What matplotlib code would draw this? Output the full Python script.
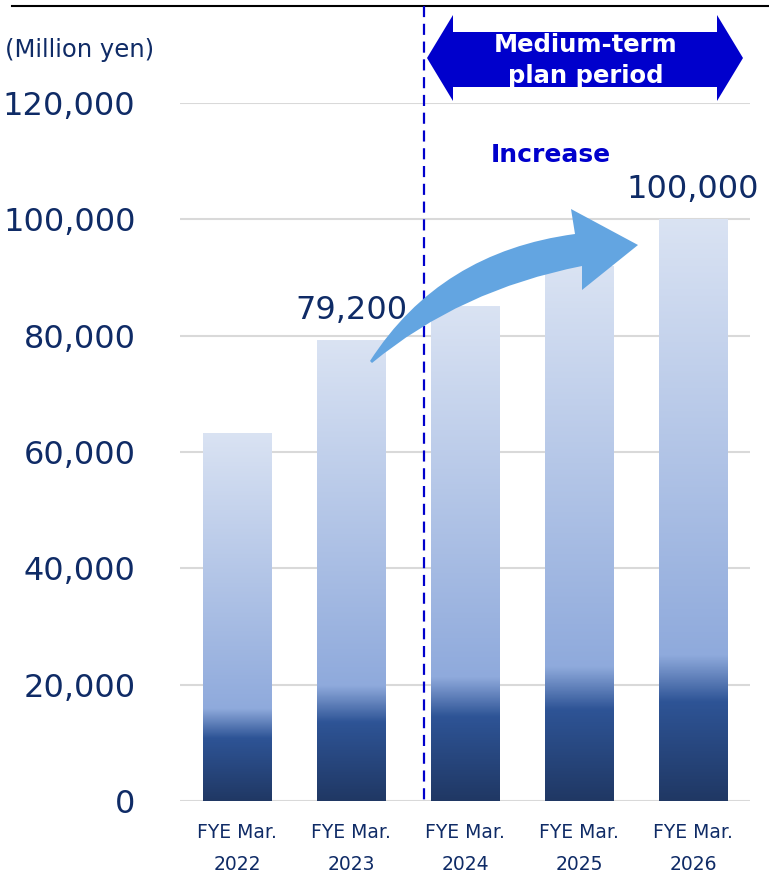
import numpy as np
import matplotlib
matplotlib.use("Agg")
import matplotlib.pyplot as plt
from matplotlib.path import Path
from matplotlib.patches import PathPatch, Polygon
from matplotlib.transforms import Affine2D
from matplotlib.lines import Line2D

# Data
years = ["FYE Mar.\n2022", "FYE Mar.\n2023", "FYE Mar.\n2024", "FYE Mar.\n2025", "FYE Mar.\n2026"]
sales = [63300, 79200, 85100, 92000, 100000]
value_labels = ["", "79,200", "", "", "100,000"]
yticks = [0, 20000, 40000, 60000, 80000, 100000, 120000]

NAVY = "#0f2b66"
BLUE = "#0000cc"
ARROW = "#63a5e1"

W, H = 769, 886
fig = plt.figure(figsize=(W / 100, H / 100), dpi=100)
ax = fig.add_axes([180 / W, 1 - 801 / H, 570 / W, 698 / H])

# pixel (top-left origin) -> figure transform
px = Affine2D().scale(1 / W, -1 / H).translate(0, 1) + fig.transFigure

x = np.arange(len(years))
bars = ax.bar(x, sales, width=0.6, color="none", edgecolor="none", zorder=2)

# gradient stops (fraction of bar height from bottom)
stops = [0.0, 0.17, 0.25, 1.0]
cols = np.array([[32, 56, 100], [46, 84, 150], [143, 170, 220], [218, 227, 243]]) / 255.0
t = np.linspace(0, 1, 400)
grad = np.stack([np.interp(t, stops, cols[:, i]) for i in range(3)], axis=-1)[:, None, :]

for rect in bars:
    x0, w, h = rect.get_x(), rect.get_width(), rect.get_height()
    im = ax.imshow(grad, extent=[x0, x0 + w, 0, h], origin="lower", aspect="auto", zorder=2)
    im.set_clip_path(rect)

for xi, v, lab in zip(x, sales, value_labels):
    if lab:
        ax.annotate(lab, (xi, v), xytext=(0, 10), textcoords="offset points",
                    ha="center", va="bottom", fontsize=23, color=NAVY, zorder=5)

ax.set_xlim(-0.5, 4.5)
ax.set_ylim(0, 120000)
ax.set_yticks(yticks)
ax.set_yticklabels([f"{v:,}" for v in yticks], fontsize=23, color=NAVY)
ax.set_xticks(x)
ax.set_xticklabels(years, fontsize=13.5, color=NAVY, linespacing=1.85)
ax.tick_params(axis="y", length=0, pad=32)
ax.tick_params(axis="x", length=0, pad=16)
ax.grid(axis="y", color="#d9d9d9", linewidth=1.5, zorder=0)
ax.set_axisbelow(True)
for s in ax.spines.values():
    s.set_visible(False)

# top rule and unit label
fig.add_artist(Line2D([12, 769], [6, 6], transform=px, color="black", linewidth=1.5))
fig.text(5 / W, 1 - 50 / H, "(Million yen)", fontsize=17.5, color=NAVY, ha="left", va="center")

# dashed divider before the plan period
fig.add_artist(Line2D([424, 424], [6, 801], transform=px, color=BLUE,
                      linewidth=1.6, linestyle=(0, (5, 3)), zorder=3))

# double arrow for plan period
dbl = [(427, 58), (453, 15), (453, 32), (717, 32), (717, 15), (743, 58),
       (717, 101), (717, 87), (453, 87), (453, 101)]
fig.add_artist(Polygon(dbl, closed=True, transform=px, facecolor=BLUE, edgecolor="none"))
fig.text(586 / W, 1 - 45 / H, "Medium-term", fontsize=17.5, fontweight="bold",
         color="white", ha="center", va="center")
fig.text(586 / W, 1 - 76 / H, "plan period", fontsize=17.5, fontweight="bold",
         color="white", ha="center", va="center")

fig.text(551 / W, 1 - 155 / H, "Increase", fontsize=18, fontweight="bold",
         color=BLUE, ha="center", va="center")

# curved "increase" arrow
verts = [(370, 361), (440, 252), (575, 234), (571, 209), (638, 245),
         (582, 290), (582, 266), (460, 290), (372, 363), (370, 361)]
codes = [Path.MOVETO, Path.CURVE3, Path.CURVE3, Path.LINETO, Path.LINETO,
         Path.LINETO, Path.LINETO, Path.CURVE3, Path.CURVE3, Path.CLOSEPOLY]
fig.add_artist(PathPatch(Path(verts, codes), transform=px, facecolor=ARROW,
                         edgecolor="none", zorder=6))

fig.savefig("out.png", dpi=100)
